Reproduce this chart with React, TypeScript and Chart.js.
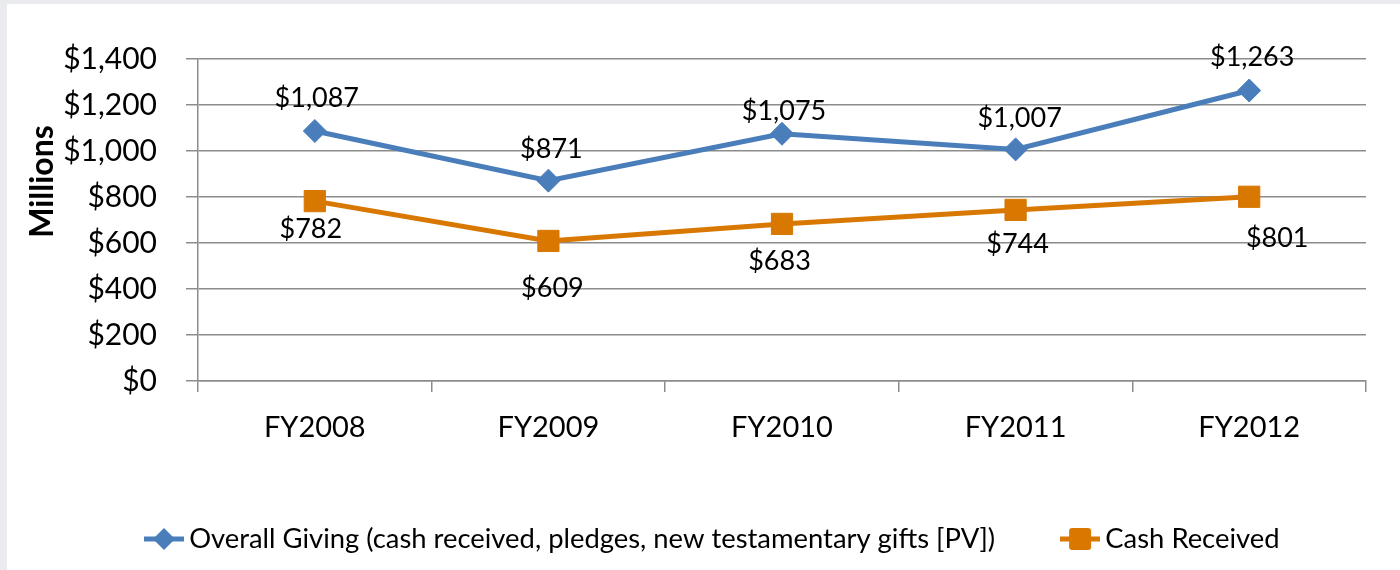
import React, { useEffect, useRef } from 'react';
import { Chart, registerables } from 'chart.js';

Chart.register(...registerables);

// ---- data ----
const categories = ['FY2008', 'FY2009', 'FY2010', 'FY2011', 'FY2012'];
const overallGiving = [1087, 871, 1075, 1007, 1263];
const cashReceived = [782, 609, 683, 744, 801];
const seriesNames = [
  'Overall Giving (cash received, pledges, new testamentary gifts [PV])',
  'Cash Received',
];
const yMin = 0;
const yMax = 1400;
const yStep = 200;
const axisTitle = 'Millions';

// ---- label placement (style, relative to each point) ----
const overallLabelOffsets = [[2, -34], [3, -32], [2, -23], [4, -32], [3, -34]];
const cashLabelOffsets = [[-4, 27.5], [4, 46], [-2.5, 36], [2, 33], [28, 41]];

// ---- style ----
const BLUE = '#4A7EBB';
const ORANGE = '#D87800';
const GRID = '#8c8c8c';
const FONT = "Lato, 'Open Sans', sans-serif";
const CANVAS_W = 1393;
const CANVAS_H = 566;
const PLOT_LEFT = 191;
const PLOT_BOTTOM = 377;
const PAD_TOP = 55;
const PAD_RIGHT = 34;
const PAD_BOTTOM = 7.3;
const LEGEND_SHIFT = 29.5;
const LEGEND_FONT = 27.4;

const money = (v: number) => '$' + Number(v).toLocaleString('en-US');

function makeIcon(color: string, kind: 'diamond' | 'square'): HTMLCanvasElement {
  const c = document.createElement('canvas');
  c.width = 40;
  c.height = 24;
  const g = c.getContext('2d')!;
  g.strokeStyle = color;
  g.lineWidth = 5;
  g.beginPath();
  g.moveTo(0, 12);
  g.lineTo(40, 12);
  g.stroke();
  g.fillStyle = color;
  g.beginPath();
  if (kind === 'diamond') {
    g.moveTo(20, 1);
    g.lineTo(31, 12);
    g.lineTo(20, 23);
    g.lineTo(9, 12);
    g.closePath();
  } else {
    const x = 9, y = 1, w = 22, h = 22, r = 3;
    g.moveTo(x + r, y);
    g.lineTo(x + w - r, y);
    g.quadraticCurveTo(x + w, y, x + w, y + r);
    g.lineTo(x + w, y + h - r);
    g.quadraticCurveTo(x + w, y + h, x + w - r, y + h);
    g.lineTo(x + r, y + h);
    g.quadraticCurveTo(x, y + h, x, y + h - r);
    g.lineTo(x, y + r);
    g.quadraticCurveTo(x, y, x + r, y);
    g.closePath();
  }
  g.fill();
  return c;
}

const dataLabelPlugin = {
  id: 'dataLabels',
  afterDatasetsDraw(chart: any) {
    const ctx = chart.ctx;
    const size = 27;
    const offsets = [overallLabelOffsets, cashLabelOffsets];
    ctx.save();
    ctx.font = `${size}px ${FONT}`;
    ctx.fillStyle = '#000';
    ctx.textAlign = 'center';
    ctx.textBaseline = 'alphabetic';
    chart.data.datasets.forEach((ds: any, i: number) => {
      const meta = chart.getDatasetMeta(i);
      meta.data.forEach((pt: any, j: number) => {
        const [dx, dy] = offsets[i][j];
        ctx.fillText(money(ds.data[j]), pt.x + dx, pt.y + dy + 0.36 * size);
      });
    });
    ctx.restore();
  },
};

const axisTitlePlugin = {
  id: 'axisTitle',
  afterDraw(chart: any) {
    const ctx = chart.ctx;
    const size = 32;
    ctx.save();
    ctx.translate(34.5, 177.5);
    ctx.rotate(-Math.PI / 2);
    ctx.font = `bold ${size}px ${FONT}`;
    ctx.fillStyle = '#000';
    ctx.textAlign = 'center';
    ctx.textBaseline = 'alphabetic';
    ctx.fillText(axisTitle, 0, 0.36 * size);
    ctx.restore();
  },
};

const legendShiftPlugin = {
  id: 'legendShift',
  afterLayout(chart: any) {
    const lg = chart.legend;
    if (lg) {
      lg.left += LEGEND_SHIFT;
      lg.right += LEGEND_SHIFT;
    }
  },
};

export default function App() {
  const ref = useRef<HTMLCanvasElement | null>(null);

  useEffect(() => {
    if (!ref.current) return;
    const icons = [makeIcon(BLUE, 'diamond'), makeIcon(ORANGE, 'square')];
    const chart = new Chart(ref.current, {
      type: 'line',
      data: {
        labels: categories,
        datasets: [
          {
            label: seriesNames[0],
            data: overallGiving,
            borderColor: BLUE,
            backgroundColor: BLUE,
            borderWidth: 5,
            pointStyle: 'rectRot',
            pointRadius: 11.5,
            pointHoverRadius: 11.5,
            pointBorderWidth: 1,
            tension: 0,
          },
          {
            label: seriesNames[1],
            data: cashReceived,
            borderColor: ORANGE,
            backgroundColor: ORANGE,
            borderWidth: 5,
            pointStyle: 'rect',
            pointRadius: 15,
            pointHoverRadius: 15,
            pointBorderWidth: 1,
            tension: 0,
          },
        ],
      },
      options: {
        responsive: false,
        animation: false,
        layout: { padding: { top: PAD_TOP, right: PAD_RIGHT, bottom: PAD_BOTTOM, left: 0 } },
        scales: {
          x: {
            offset: true,
            grid: {
              offset: true,
              drawOnChartArea: false,
              color: GRID,
              lineWidth: 1.5,
              tickLength: 11,
            },
            border: { display: true, color: GRID, width: 1.5 },
            ticks: {
              color: '#000',
              font: { family: FONT, size: 29 },
              padding: 18,
              autoSkip: false,
              maxRotation: 0,
            },
            afterFit(scale: any) {
              const lg = scale.chart.legend;
              const lgH = lg ? lg.height : 110;
              scale.height = scale.chart.height - PAD_BOTTOM - lgH - PLOT_BOTTOM;
            },
          },
          y: {
            min: yMin,
            max: yMax,
            ticks: {
              stepSize: yStep,
              color: '#000',
              font: { family: FONT, size: 30 },
              padding: 29,
              callback: (v: any) => money(v),
            },
            grid: {
              color: GRID,
              lineWidth: 1.5,
              tickLength: 12,
            },
            border: { display: true, color: GRID, width: 1.5 },
            afterFit(scale: any) {
              scale.width = PLOT_LEFT;
            },
          },
        },
        plugins: {
          tooltip: { enabled: false },
          legend: {
            position: 'bottom',
            labels: {
              usePointStyle: true,
              pointStyleWidth: 23,
              padding: 73.5,
              color: '#000',
              font: { family: FONT, size: LEGEND_FONT },
              generateLabels: (ch: any) =>
                ch.data.datasets.map((ds: any, i: number) => ({
                  text: ds.label,
                  pointStyle: icons[i],
                  fillStyle: ds.borderColor,
                  strokeStyle: ds.borderColor,
                  lineWidth: 0,
                  hidden: false,
                  datasetIndex: i,
                  fontColor: '#000',
                })),
            },
          },
        },
      } as any,
      plugins: [dataLabelPlugin, axisTitlePlugin, legendShiftPlugin],
    });
    return () => chart.destroy();
  }, []);

  return (
    <div
      style={{
        position: 'fixed',
        left: 0,
        top: 0,
        width: 1400,
        height: 570,
        background: '#e9ebee',
      }}
    >
      <div
        style={{
          position: 'absolute',
          left: 7,
          top: 4,
          width: CANVAS_W,
          height: CANVAS_H,
          background: '#ffffff',
        }}
      >
        <canvas
          ref={ref}
          width={CANVAS_W}
          height={CANVAS_H}
          style={{ width: CANVAS_W, height: CANVAS_H, display: 'block' }}
        />
      </div>
    </div>
  );
}
